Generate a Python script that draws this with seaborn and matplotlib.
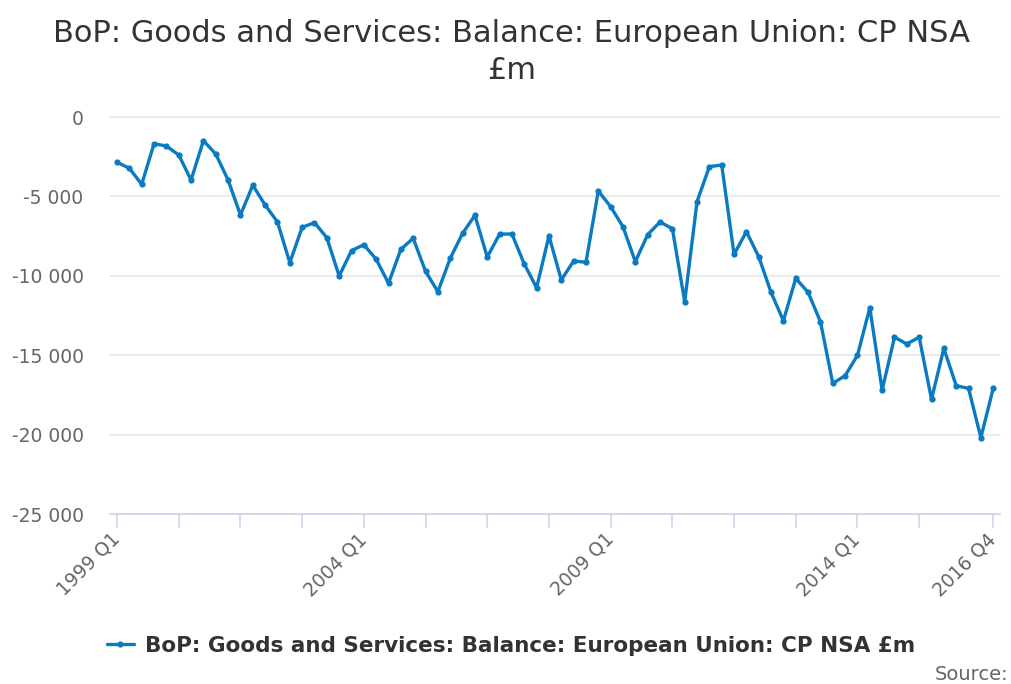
import numpy as np
import pandas as pd
import matplotlib
matplotlib.use('Agg')
import matplotlib.pyplot as plt
import seaborn as sns

# Quarterly balance, EU, £m (1999 Q1 .. 2016 Q4)
years = list(range(1999, 2017))
quarters = [f"{y} Q{q}" for y in years for q in range(1, 5)]
balance = [
    -2850, -3230, -4240, -1680, -1830, -2390, -3970, -1490,
    -2330, -3970, -6170, -4300, -5540, -6610, -9170, -6950,
    -6650, -7600, -10010, -8420, -8040, -8960, -10470, -8330,
    -7640, -9720, -11000, -8900, -7330, -6190, -8820, -7370,
    -7370, -9260, -10750, -7490, -10260, -9070, -9150, -4660,
    -5650, -6910, -9110, -7410, -6610, -7030, -11630, -5330,
    -3130, -3020, -8650, -7220, -8800, -11050, -12830, -10160,
    -11040, -12890, -16770, -16290, -15010, -12010, -17190, -13870,
    -14290, -13870, -17780, -14570, -16920, -17090, -20190, -17090,
]
series_name = "BoP: Goods and Services: Balance: European Union: CP NSA £m"
title = "BoP: Goods and Services: Balance: European Union: CP NSA\n£m"
y_ticks = [0, -5000, -10000, -15000, -20000, -25000]
label_quarters = ["1999 Q1", "2004 Q1", "2009 Q1", "2014 Q1", "2016 Q4"]

df = pd.DataFrame({"quarter": quarters, "balance": balance})
df["idx"] = np.arange(len(df))

sns.set_style("white")
plt.rcParams['font.family'] = ['DejaVu Sans']

line_color = '#0a7ac2'
grey = '#666666'

fig = plt.figure(figsize=(10.11, 6.84), dpi=100)
ax = fig.add_axes([110 / 1011, 1 - 514 / 684, 890 / 1011, 397 / 684])

sns.lineplot(data=df, x="idx", y="balance", ax=ax, color=line_color,
             linewidth=2.4, marker='o', markersize=4.5, markeredgewidth=0,
             label=series_name)

ax.set_xlim(-0.57, 71.55)
ax.set_ylim(-25000, 0)

# grid & spines
ax.set_yticks(y_ticks)
ax.set_yticklabels([f"{v:,}".replace(",", " ") for v in y_ticks],
                   color=grey, fontsize=13.5)
ax.yaxis.grid(True, color='#e6e6e6', linewidth=1.2)
for gl in ax.get_ygridlines():
    gl.set_clip_on(False)
ax.set_axisbelow(True)
for s in ['top', 'right', 'left']:
    ax.spines[s].set_visible(False)
ax.spines['bottom'].set_color('#ccd6eb')
ax.spines['bottom'].set_linewidth(1.2)
ax.tick_params(axis='y', left=False, length=0, pad=19)

tick_pos = list(range(0, 70, 5)) + [71]
ax.set_xticks(tick_pos)
ax.set_xticklabels([quarters[i] if quarters[i] in label_quarters else "" for i in tick_pos],
                   rotation=45, ha='right', va='center', rotation_mode='anchor',
                   color=grey, fontsize=13.5)
ax.tick_params(axis='x', bottom=True, length=10, width=1.2, color='#ccd6eb', pad=6)
ax.set_xlabel("")
ax.set_ylabel("")

fig.suptitle(title, x=0.506, y=0.972, fontsize=22, color='#333333',
             linespacing=1.35)

leg = ax.legend(loc='center', bbox_to_anchor=((511 - 110) / 890, -0.332),
                frameon=False, handlelength=1.3, handletextpad=0.5,
                prop={'weight': 'bold', 'size': 15.5})
for t in leg.get_texts():
    t.set_color('#333333')

fig.text(0.997, 0.0, "Source:", ha='right', va='bottom', color=grey,
         fontsize=14)

fig.savefig('out.png', dpi=100)
